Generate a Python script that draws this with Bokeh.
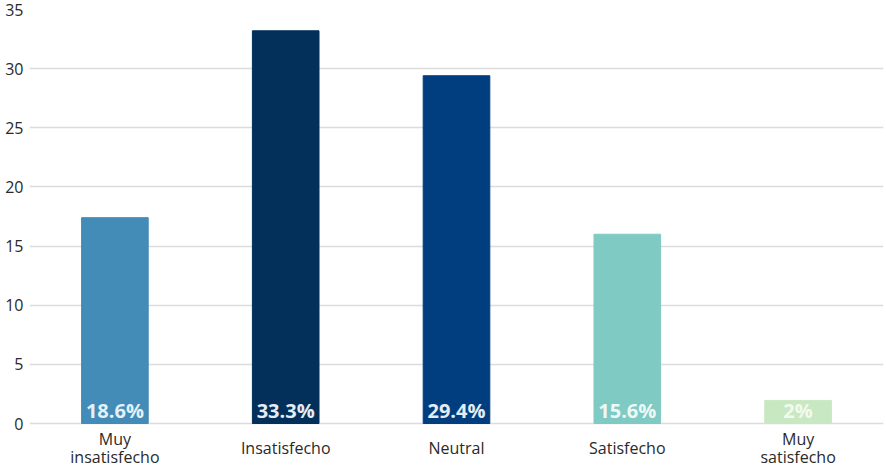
from bokeh.plotting import figure
from bokeh.models import ColumnDataSource, FixedTicker, FactorRange
from bokeh.core.properties import value
from bokeh.embed import file_html
from bokeh.resources import INLINE

categories = ["Muy insatisfecho", "Insatisfecho", "Neutral", "Satisfecho", "Muy satisfecho"]
category_lines = [["Muy", "insatisfecho"], ["Insatisfecho"], ["Neutral"], ["Satisfecho"], ["Muy", "satisfecho"]]
values = [17.4, 33.2, 29.4, 16.0, 1.95]
labels = ["18.6%", "33.3%", "29.4%", "15.6%", "2%"]
colors = ["#438cb8", "#02305a", "#013e80", "#7fcac3", "#c8e8c2"]
label_colors = ["#e4f1f7", "#e4ecf4", "#e4ecf4", "#eef8f7", "#f2faf0"]
y_ticks = [0, 5, 10, 15, 20, 25, 30, 35]

src = ColumnDataSource(dict(cat=categories, val=values, lab=labels, col=colors,
                            lcol=label_colors, zero=[0] * len(values)))

# category label lines (drawn below the zero line)
lx, ltxt, loff = [], [], []
for cat, lines in zip(categories, category_lines):
    if len(lines) == 1:
        lx.append(cat); ltxt.append(lines[0]); loff.append(13)
    else:
        for i, ln in enumerate(lines):
            lx.append(cat); ltxt.append(ln); loff.append(4 + 18 * i)
lsrc = ColumnDataSource(dict(x=lx, t=ltxt, off=loff, zero=[0] * len(lx)))

p = figure(x_range=FactorRange(*categories), y_range=(-3.804, 35), width=884, height=468,
           output_backend="svg", toolbar_location=None,
           min_border_left=29, min_border_right=1, min_border_top=9, min_border_bottom=0)
p.outline_line_color = None
p.background_fill_color = "white"
p.border_fill_color = "white"

p.vbar(x="cat", top="val", width=0.39, color="col", source=src)
p.text(x="cat", y="zero", text="lab", source=src, text_color="lcol",
       text_font=value("Open Sans"), text_font_size="20px", text_font_style="bold",
       text_align="center", text_baseline="bottom", y_offset=0)
p.text(x="x", y="zero", text="t", source=lsrc, y_offset="off", text_color="#2a2a2a",
       text_font=value("Open Sans"), text_font_size="16px",
       text_align="center", text_baseline="top")

p.xgrid.grid_line_color = None
p.ygrid.grid_line_color = "#dcdcdc"
p.ygrid.grid_line_width = 1.5
p.ygrid.ticker = FixedTicker(ticks=y_ticks)
p.yaxis.ticker = FixedTicker(ticks=y_ticks)
p.xaxis.visible = False

p.yaxis.axis_line_color = None
p.yaxis.major_tick_line_color = None
p.yaxis.minor_tick_line_color = None
p.yaxis.major_tick_out = 0
p.yaxis.major_tick_in = 0
p.yaxis.minor_tick_out = 0
p.yaxis.major_label_text_font = "Open Sans"
p.yaxis.major_label_text_font_size = "16px"
p.yaxis.major_label_text_color = "#2a2a2a"
p.yaxis.major_label_standoff = 6

open("out.html", "w").write(file_html(p, INLINE))
